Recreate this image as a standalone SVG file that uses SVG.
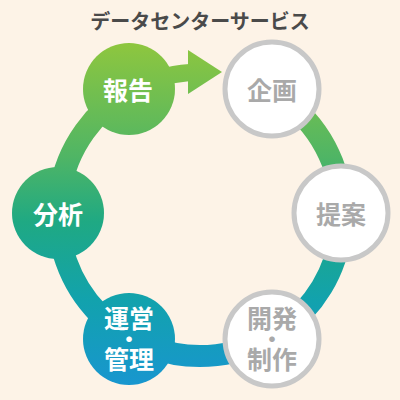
<svg xmlns="http://www.w3.org/2000/svg" width="400" height="400" viewBox="0 0 400 400">
  <defs>
    <linearGradient id="g" gradientUnits="userSpaceOnUse" x1="0" y1="45" x2="0" y2="385">
      <stop offset="0" stop-color="#8dc63f"/>
      <stop offset="0.33" stop-color="#4fb565"/>
      <stop offset="0.52" stop-color="#1fa983"/>
      <stop offset="0.75" stop-color="#12a2ad"/>
      <stop offset="1" stop-color="#1896cf"/>
    </linearGradient>
  </defs>
  <style>
    text { font-family: "Noto Sans CJK JP", "Noto Sans", sans-serif; font-weight: bold; text-anchor: middle; dominant-baseline: central; }
    .lbl { font-size: 25px; }
    .dot { font-size: 20px; font-weight: 900; }
    .on { fill: #ffffff; }
    .off { fill: #a9a9a9; }
    .fill { fill: url(#g); }
    .empty { fill: #ffffff; stroke: #c8c8c8; stroke-width: 5; }
  </style>
  <rect x="0" y="0" width="400" height="400" fill="#fdf3e7"/>
  <text x="200" y="20" font-size="20" fill="#4a4a4a">データセンターサービス</text>
  <g id="connectors">
    <path d="M 240 77.75 A 142 142 0 1 1 129.9 90.6" fill="none" stroke="url(#g)" stroke-width="22"/>
    <path d="M 129.9 90.6 A 142 142 0 0 1 190 72.4" fill="none" stroke="url(#g)" stroke-width="17"/>
    <polygon points="188,50 222,72 188,94" class="fill"/>
  </g>
  <g id="node-houkoku">
    <circle cx="129" cy="89" r="46" class="fill"/>
    <text x="128" y="89" class="lbl on">報告</text>
  </g>
  <g id="node-kikaku">
    <circle cx="272" cy="89" r="47" class="empty"/>
    <text x="272" y="89" class="lbl off">企画</text>
  </g>
  <g id="node-teian">
    <circle cx="341" cy="213" r="47" class="empty"/>
    <text x="341" y="213" class="lbl off">提案</text>
  </g>
  <g id="node-kaihatsu">
    <circle cx="272" cy="339" r="47" class="empty"/>
    <text class="lbl off"><tspan x="272" y="317">開発</tspan><tspan x="272" y="338" class="dot">・</tspan><tspan x="272" y="358">制作</tspan></text>
  </g>
  <g id="node-unei">
    <circle cx="129" cy="339" r="46" class="fill"/>
    <text class="lbl on"><tspan x="129" y="317">運営</tspan><tspan x="129" y="338" class="dot">・</tspan><tspan x="129" y="358">管理</tspan></text>
  </g>
  <g id="node-bunseki">
    <circle cx="58" cy="213" r="46" class="fill"/>
    <text x="58" y="213" class="lbl on">分析</text>
  </g>
</svg>
